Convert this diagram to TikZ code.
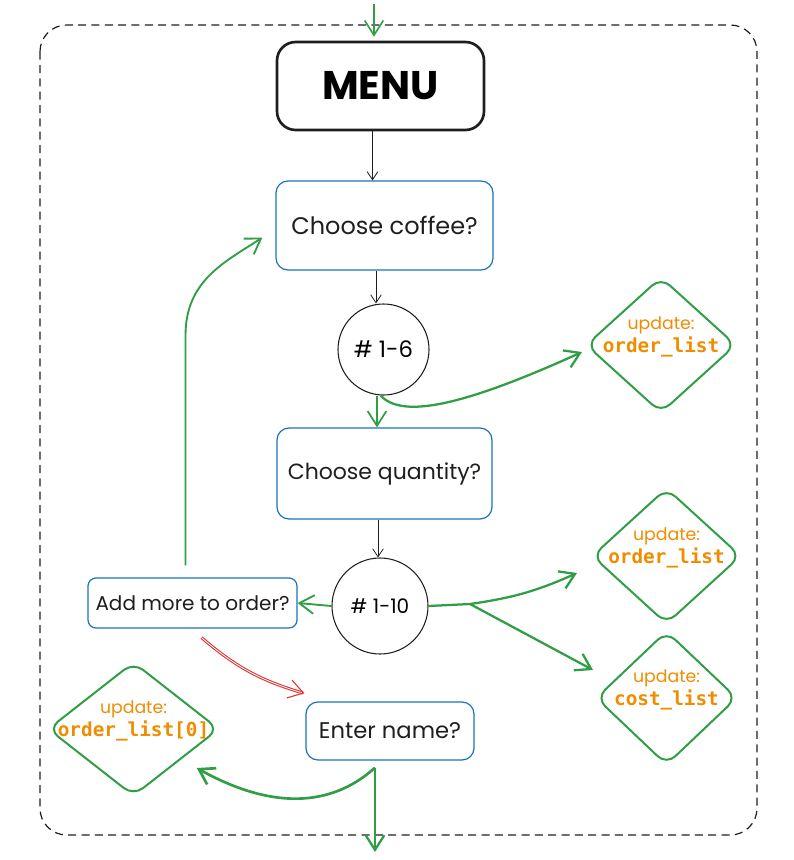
\documentclass[tikz,border=0pt]{standalone}
\usepackage{fontspec}
\setmainfont{Poppins}
\newfontfamily\codefont{DejaVu Sans Mono}
\usetikzlibrary{arrows.meta,shapes.geometric,positioning}
\definecolor{skblack}{HTML}{1E1E1E}
\definecolor{skblue}{HTML}{1971C2}
\definecolor{skgreen}{HTML}{2F9E44}
\definecolor{skorange}{HTML}{F08C00}
\definecolor{skred}{HTML}{E03131}
\newlength\pxu
\setlength\pxu{0.75pt}
\tikzset{
	menubox/.style={draw=skblack, line width=2pt, rounded corners=14pt, font=\fontsize{30}{32}\selectfont\bfseries},
	askbox/.style={draw=skblue, line width=0.9pt, rounded corners=9pt, text=skblack, font=\fontsize{17}{19}\selectfont},
	pick/.style={draw=skblack, circle, line width=0.8pt, inner sep=0pt, font=\fontsize{15}{17}\selectfont},
	update/.style={draw=skgreen, diamond, line width=1.5pt, rounded corners=9pt, inner sep=0pt},
	updatetext/.style={text=skorange, align=center},
	flow/.style={draw=skblack, line width=0.6pt, -{Straight Barb[length=6pt,width=8pt]}},
	okflow/.style={draw=skgreen, line width=1.7pt, -{Straight Barb[length=11pt,width=14pt]}},
	noflow/.style={draw=skred, double=white, double distance=0.6pt, line width=0.8pt, -{Straight Barb[length=11pt,width=14pt]}},
	frame/.style={draw=skblack, line width=0.9pt, dash pattern=on 6pt off 4pt, rounded corners=20pt}
}
\begin{document}
\begin{tikzpicture}[x=0.75pt, y=-0.75pt]
	\newcommand{\updateNode}[5]{
		% draws an update diamond
		% args:
		%     name
		%     center (px)
		%     width, height (px)
		%     variable that is updated
		\node[update, minimum width=#3\pxu, minimum height=#4\pxu] (#1) at (#2) {};
		\node[updatetext] (#1_text) at ([yshift=8\pxu]#1.center)
			{{\fontsize{13}{15}\selectfont update:}\\[1pt]{\codefont\bfseries\fontsize{14.5}{17}\selectfont #5}};
	}
	\useasboundingbox (0,0) rectangle (793,860);
	% outer frame
	\draw[frame] (40,25) rectangle (757,835);
	% main column
	\node[menubox, minimum width=207\pxu, minimum height=88\pxu] (menu) at (380.5,86) {MENU};
	\node[askbox, font=\fontsize{18}{20}\selectfont, minimum width=217\pxu, minimum height=89\pxu] (coffee) at (384.5,225.5) {Choose coffee?};
	\node[pick, font=\fontsize{17}{19}\selectfont, minimum size=91\pxu] (c16) at (383.5,349.5) {\# 1-6};
	\node[askbox, font=\fontsize{16.5}{18}\selectfont, minimum width=215\pxu, minimum height=91\pxu] (qty) at (384.5,473.5) {Choose quantity?};
	\node[pick, minimum size=96\pxu] (c110) at (380,606) {\# 1-10};
	\node[askbox, font=\fontsize{15}{17}\selectfont, rounded corners=6pt, minimum width=209\pxu, minimum height=50\pxu] (more) at (192.5,603) {Add more to order?};
	\node[askbox, minimum width=168\pxu, minimum height=58\pxu] (name) at (390,731) {Enter name?};
	% updates
	\updateNode{upd1}{661,345}{150}{136}{order\_list}
	\updateNode{upd2}{666.5,556}{149}{136}{order\_list}
	\updateNode{upd3}{666.5,698}{141}{134}{cost\_list}
	\updateNode{upd4}{133.5,729}{171}{134}{order\_list[0]}
	% free ends
	\coordinate (entry) at (374,4);
	\coordinate (exit) at (375,852);
	\coordinate (split) at (470,604);
	% connectors
	\draw[okflow, line width=1.2pt] (entry) -- ([yshift=4\pxu]entry |- menu.north);
	\draw[flow] ([xshift=-8\pxu]menu.south) -- ([xshift=-12\pxu]coffee.north);
	\draw[flow] ([xshift=-8.5\pxu]coffee.south) -- ([xshift=-7.5\pxu]c16.north);
	\draw[okflow, line width=1.3pt] ([xshift=-6.5\pxu]c16.south) -- ([xshift=-7.5\pxu]qty.north);
	\draw[okflow] ([xshift=-3\pxu]c16.south) .. controls (400,416) and (450,412) .. ([shift={(-3,7)}]upd1.west);
	\draw[flow] ([xshift=-6.5\pxu]qty.south) -- ([xshift=-2\pxu]c110.north);
	\draw[okflow, line width=1.4pt] (c110.west) -- (more.east);
	\draw[okflow, line width=1.4pt] ([shift={(-7,-12)}]more.north) -- ++(0,-230)
		.. controls ++(0,-55) and (225,262) .. ([shift={(-13,12)}]coffee.west);
	\draw[okflow, -] (c110.east) -- (split);
	\draw[okflow] (split) to[bend right=8] ([shift={(-14,17)}]upd2.west);
	\draw[okflow] (split) -- ([shift={(-2,-28)}]upd3.west);
	\draw[noflow] ([shift={(9,9)}]more.south) to[bend right=12] ([shift={(-1,-8)}]name.north west);
	\draw[okflow] ([shift={(-15,7)}]name.south) -- (exit);
	\draw[okflow, line width=2pt] ([shift={(-15,7)}]name.south) .. controls (345,795) and (290,820) .. ([shift={(20,5)}]upd4.south east);
\end{tikzpicture}
\end{document}
